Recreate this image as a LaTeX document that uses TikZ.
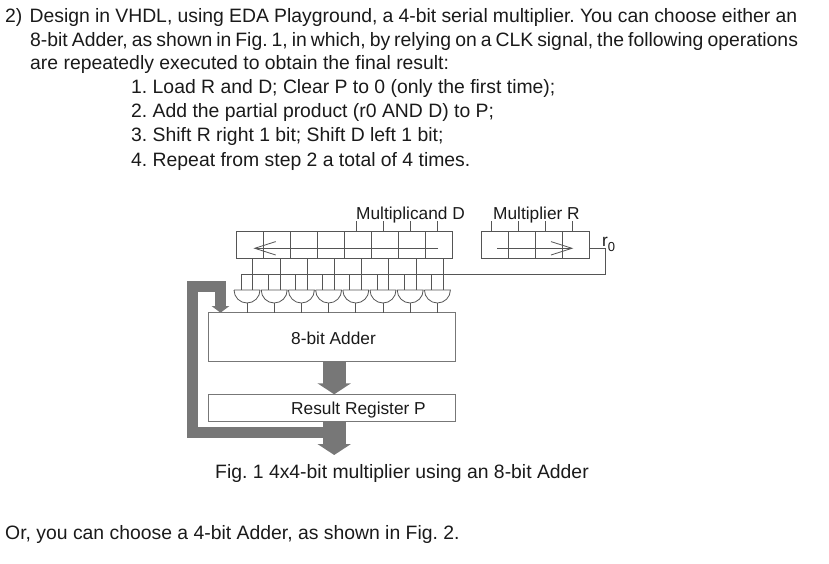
\documentclass[tikz,border=0pt]{standalone}
\usepackage{fontspec}
\setmainfont{Liberation Sans}
\usepackage{tikz}
\usetikzlibrary{arrows.meta,calc}
\definecolor{linegray}{HTML}{555555}
\definecolor{busgray}{HTML}{777777}
\definecolor{inkgray}{HTML}{1A1A1A}
\frenchspacing
\tikzset{
  cellbox/.style={draw=linegray,line width=0.8pt,anchor=north west,minimum width=27pt,minimum height=26.6pt,inner sep=0pt,outer sep=0pt},
  unitbox/.style={draw=busgray,line width=0.8pt,anchor=north west,minimum width=246.7pt,inner sep=0pt,outer sep=0pt},
  wire/.style={draw=linegray,line width=0.8pt},
  shiftarrow/.style={wire,-{Straight Barb[length=21pt,width=13.4pt]}},
  busarrow/.style={draw=busgray,line width=23pt,-{Triangle[length=11pt,width=33pt]}},
  backarrow/.style={draw=busgray,line width=11pt,miter limit=10,-{Triangle[length=6.7pt,width=17.6pt]}},
  bodytext/.style={anchor=base west,inner sep=0pt,text=inkgray,font=\fontsize{19.37}{21}\selectfont},
  labeltext/.style={anchor=base west,inner sep=0pt,text=inkgray,font=\fontsize{17.3}{19}\selectfont}
}
\begin{document}
\begin{tikzpicture}[x=1pt,y=-1pt]
  \useasboundingbox (0,0) rectangle (829,564);
  \node[bodytext] (line1) at (5,22.7) {\spaceskip=5.2pt 2)\hspace{2pt} Design in VHDL, using EDA Playground, a 4-bit serial multiplier. You can choose either an};
  \node[bodytext] (line2) at (30,46.7) {\spaceskip=4pt 8-bit Adder, as shown in Fig. 1, in which, by relying on a CLK signal, the following operations};
  \node[bodytext] (line3) at (30,69.5) {are repeatedly executed to obtain the final result:};
  \node[bodytext] (step1) at (131,93.7) {1. Load R and D; Clear P to 0 (only the first time);};
  \node[bodytext] (step2) at (131,117.7) {2. Add the partial product (r0 AND D) to P;};
  \node[bodytext] (step3) at (131,141.7) {3. Shift R right 1 bit; Shift D left 1 bit;};
  \node[bodytext] (step4) at (131,166.7) {4. Repeat from step 2 a total of 4 times.};
  \node[bodytext] (caption) at (215,478) {Fig. 1 4x4-bit multiplier using an 8-bit Adder};
  \node[bodytext] (orline) at (5,539) {Or, you can choose a 4-bit Adder, as shown in Fig. 2.};

  \node[labeltext] (dlabel) at (356,219) {Multiplicand D};
  \node[labeltext] (rlabel) at (493,219) {Multiplier R};
  \node[labeltext] (rzero) at (602,246.7) {r\raisebox{-4.3pt}{\fontsize{13}{13}\selectfont 0}};

  \foreach \i in {1,...,8} {
    \node[cellbox] (d\i) at ({236.7+27*(\i-1)},231.7) {};
  }
  \foreach \i in {1,...,4} {
    \node[cellbox] (r\i) at ({481.7+27*(\i-1)},231.7) {};
    \coordinate (rtick\i) at ($(r\i.north)+(-3.5,0)$);
    \draw[wire] (rtick\i) -- ++(0,-10.7);
  }
  \foreach \i in {5,...,8} {
    \coordinate (dtick\i) at ($(d\i.north)+(-2,0)$);
    \draw[wire] (dtick\i) -- ++(0,-10.7);
  }
  \draw[shiftarrow] ($(d8.center)+(-1,3.3)$) -- ($(d1.center)+(3.2,3.3)$);
  \draw[shiftarrow] ($(r1.center)+(2.1,3.3)$) -- ($(r4.center)+(-2.9,3.3)$);

  \node[unitbox,minimum height=49pt] (adder) at (208.3,312.7) {};
  \node[unitbox,minimum height=26.7pt] (result) at (208.3,394.3) {};
  \node[labeltext] (adderlabel) at (291,344) {8-bit Adder};
  \node[labeltext] (resultlabel) at (291,414) {Result Register P};

  \coordinate (busstart) at (241,274.3);
  \coordinate (busend) at (605.7,274.3);
  \draw[wire] ($(r4.east)+(0,3.3)$) -| (busend) -- (busstart);

  \foreach \i in {1,...,8} {
    \coordinate (g\i) at ({247+27.2*(\i-1)},290);
    \coordinate (gout\i) at ($(g\i)+(0,13.3)$);
    \coordinate (ina\i) at ($(g\i)+(5.7,0)$);
    \coordinate (inb\i) at ($(g\i)+(-6,0)$);
    \draw[wire] (g\i) ++(-13,0) -- ++(26,0) arc[start angle=0,end angle=180,radius=13];
    \draw[wire] (gout\i) -- (adder.north -| gout\i);
    \draw[wire] (d\i.south -| ina\i) -- (ina\i);
    \draw[wire] (busstart -| inb\i) -- (inb\i);
  }

  \coordinate (busx) at (334.2,0);
  \coordinate (outp) at (334.2,455);
  \coordinate (backstart) at (334.2,432);
  \coordinate (backx) at (220.5,0);
  \draw[busarrow] (adder.south -| busx) -- (result.north -| busx);
  \draw[busarrow] (result.south -| busx) -- (outp);
  \draw[backarrow] (backstart) -- (192.8,432) -- (192.8,286.2) -- (220.5,286.2) -- (adder.north -| backx);
\end{tikzpicture}
\end{document}
